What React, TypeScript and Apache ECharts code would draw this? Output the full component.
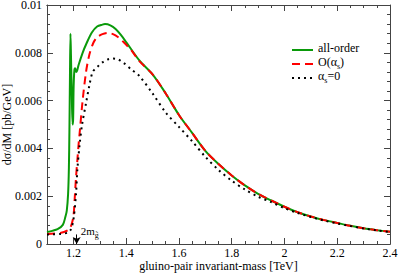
import React, { useEffect, useRef } from "react";
import * as echarts from "echarts";

const allOrderX = [1.1, 1.12, 1.14, 1.16, 1.17, 1.175, 1.18, 1.183, 1.185, 1.187, 1.189, 1.191, 1.194, 1.197, 1.199, 1.201, 1.204, 1.207, 1.21, 1.214, 1.22, 1.235, 1.25, 1.27, 1.29, 1.31, 1.32, 1.34, 1.36, 1.38, 1.4, 1.45, 1.5, 1.55, 1.6, 1.65, 1.7, 1.75, 1.8, 1.85, 1.9, 1.95, 2.0, 2.05, 2.1, 2.15, 2.2, 2.25, 2.3, 2.35, 2.4];
const allOrderY = [0.0005, 0.00055, 0.00062, 0.0008, 0.00115, 0.0014, 0.0021, 0.0032, 0.0048, 0.007, 0.0088, 0.0078, 0.0062, 0.005, 0.0052, 0.0066, 0.0073, 0.00735, 0.0072, 0.00725, 0.0075, 0.008, 0.0084, 0.00885, 0.0091, 0.00918, 0.0092, 0.00915, 0.009, 0.00875, 0.00845, 0.00768, 0.0071, 0.0063, 0.0054, 0.00465, 0.0039, 0.00335, 0.00287, 0.00245, 0.0021, 0.00182, 0.00156, 0.00133, 0.00115, 0.001, 0.00088, 0.00076, 0.00066, 0.00058, 0.00051];

const oasX = [1.1, 1.15, 1.18, 1.19, 1.2, 1.205, 1.21, 1.215, 1.22, 1.225, 1.235, 1.248, 1.26, 1.275, 1.29, 1.31, 1.33, 1.35, 1.37, 1.39, 1.42, 1.45, 1.5, 1.55, 1.6, 1.65, 1.7, 1.75, 1.8, 1.85, 1.9, 1.95, 2.0, 2.05, 2.1, 2.15, 2.2, 2.25, 2.3, 2.35, 2.4];
const oasY = [0.00042, 0.00046, 0.00058, 0.00072, 0.00115, 0.0019, 0.0028, 0.0035, 0.0042, 0.0048, 0.006, 0.0072, 0.0079, 0.0084, 0.00865, 0.00878, 0.00883, 0.00878, 0.00865, 0.00845, 0.0081, 0.00765, 0.0071, 0.0063, 0.0054, 0.00465, 0.0039, 0.00335, 0.00287, 0.00245, 0.0021, 0.00182, 0.00156, 0.00133, 0.00115, 0.001, 0.00088, 0.00076, 0.00066, 0.00058, 0.00051];

const as0X = [1.1, 1.15, 1.18, 1.19, 1.2, 1.21, 1.215, 1.224, 1.233, 1.248, 1.26, 1.273, 1.29, 1.31, 1.33, 1.35, 1.37, 1.39, 1.42, 1.45, 1.5, 1.55, 1.6, 1.65, 1.7, 1.75, 1.8, 1.85, 1.9, 1.95, 2.0, 2.05, 2.1, 2.15, 2.2, 2.25, 2.3, 2.35, 2.4];
const as0Y = [0.0004, 0.00042, 0.00048, 0.0006, 0.001, 0.0021, 0.0031, 0.0042, 0.005, 0.0059, 0.0066, 0.0072, 0.0074, 0.0076, 0.00772, 0.00776, 0.00772, 0.00758, 0.0073, 0.00703, 0.0063, 0.0055, 0.0049, 0.0043, 0.00365, 0.0031, 0.00265, 0.00228, 0.00198, 0.00175, 0.0015, 0.0013, 0.00113, 0.00098, 0.00086, 0.00075, 0.00065, 0.00057, 0.0005];

const xMajorTicks = [1.2, 1.4, 1.6, 1.8, 2, 2.2, 2.4];
const xMinorTicks = [1.15, 1.25, 1.3, 1.35, 1.45, 1.5, 1.55, 1.65, 1.7, 1.75, 1.85, 1.9, 1.95, 2.05, 2.1, 2.15, 2.25, 2.3, 2.35];

const thresholdX = 1.2125;
const arrowTop = 0.0004;
const labelY = 0.00043;

const FONT = '"Liberation Serif", "DejaVu Serif", serif';
const AXIS_COLOR = "#444";

function zip(xs: number[], ys: number[]) {
  return xs.map((x, i) => [x, ys[i]]);
}

export default function App() {
  const ref = useRef<HTMLDivElement>(null);
  useEffect(() => {
    if (!ref.current) return;
    const chart = echarts.init(ref.current, null, { renderer: "svg" });
    const lineCol = { color: AXIS_COLOR, width: 1 };
    const xBase = (pos: string) => ({
      type: "value",
      min: 1.1,
      max: 2.4,
      position: pos,
      splitLine: { show: false },
      axisLine: { show: true, onZero: false, lineStyle: lineCol },
    });
    const legendRich = {
      a: { fontFamily: FONT, fontSize: 12, color: "#000", lineHeight: 12, padding: [0, 0, 2, 0], verticalAlign: "bottom" },
      s: { fontFamily: FONT, fontSize: 8, color: "#000", lineHeight: 8, verticalAlign: "bottom" },
    };
    const legendText: Record<string, string> = {
      "all-order": "{a|all-order}",
      "O(αs)": "{a|O(α}{s|s}{a|)}",
      "αs=0": "{a|α}{s|s}{a|=0}",
    };
    chart.setOption({
      animation: false,
      backgroundColor: "#fff",
      grid: { left: 47, right: 9, top: 5, bottom: 29, containLabel: false, outerBoundsMode: "none" },
      legend: {
        orient: "vertical",
        left: 286,
        top: 37,
        itemWidth: 21,
        itemHeight: 10,
        itemGap: 0,
        itemStyle: { color: "transparent", borderWidth: 0, opacity: 0 },
        formatter: (n: string) => legendText[n] || n,
        textStyle: { fontFamily: FONT, fontSize: 12, color: "#000", rich: legendRich },
        data: ["all-order", "O(αs)", "αs=0"],
      },
      xAxis: [
        {
          ...xBase("bottom"),
          name: "gluino-pair invariant-mass [TeV]",
          nameLocation: "middle",
          nameGap: 16,
          nameMoveOverlap: false,
          nameTextStyle: { fontFamily: FONT, fontSize: 12, color: "#000" },
          axisTick: { show: true, inside: true, length: 6, customValues: xMajorTicks, lineStyle: lineCol },
          axisLabel: { show: true, customValues: xMajorTicks, margin: 3, fontFamily: FONT, fontSize: 12, color: "#000" },
        },
        {
          ...xBase("bottom"),
          axisTick: { show: true, inside: true, length: 3, customValues: xMinorTicks, lineStyle: lineCol },
          axisLabel: { show: false },
        },
        {
          ...xBase("top"),
          axisTick: { show: true, inside: true, length: 6, customValues: xMajorTicks, lineStyle: lineCol },
          axisLabel: { show: false },
        },
        {
          ...xBase("top"),
          axisTick: { show: true, inside: true, length: 3, customValues: xMinorTicks, lineStyle: lineCol },
          axisLabel: { show: false },
        },
      ],
      yAxis: [
        {
          type: "value",
          min: 0,
          max: 0.01,
          interval: 0.002,
          position: "left",
          name: "dσ/dM [pb/GeV]",
          nameLocation: "middle",
          nameGap: 34,
          nameMoveOverlap: false,
          nameTextStyle: { fontFamily: FONT, fontSize: 12, color: "#000" },
          splitLine: { show: false },
          axisLine: { show: true, onZero: false, lineStyle: lineCol },
          axisTick: { show: true, inside: true, length: 6, lineStyle: lineCol },
          minorTick: { show: true, splitNumber: 5, length: 3, lineStyle: lineCol },
          axisLabel: { margin: 5, fontFamily: FONT, fontSize: 12, color: "#000" },
        },
        {
          type: "value",
          min: 0,
          max: 0.01,
          interval: 0.002,
          position: "right",
          splitLine: { show: false },
          axisLine: { show: true, onZero: false, lineStyle: lineCol },
          axisTick: { show: true, inside: true, length: 6, lineStyle: lineCol },
          minorTick: { show: true, splitNumber: 5, length: 3, lineStyle: lineCol },
          axisLabel: { show: false },
        },
      ],
      series: [
        {
          name: "all-order",
          type: "line",
          symbol: "none",
          smooth: 0.3,
          data: zip(allOrderX, allOrderY),
          lineStyle: { color: "#0a9a0a", width: 2 },
          itemStyle: { color: "#0a9a0a" },
          z: 2,
        },
        {
          name: "O(αs)",
          type: "line",
          symbol: "none",
          smooth: 0.3,
          data: zip(oasX, oasY),
          lineStyle: { color: "#ff0000", width: 2, type: [8, 5] },
          itemStyle: { color: "#ff0000" },
          z: 3,
        },
        {
          name: "αs=0",
          type: "line",
          symbol: "none",
          smooth: 0.3,
          data: zip(as0X, as0Y),
          lineStyle: { color: "#000", width: 2, type: [2, 4] },
          itemStyle: { color: "#000" },
          z: 4,
          markLine: {
            silent: true,
            symbol: ["none", "arrow"],
            symbolSize: [6, 7],
            label: { show: false },
            lineStyle: { color: "#000", width: 1, type: "solid" },
            data: [[{ coord: [thresholdX, arrowTop] }, { coord: [thresholdX, 0] }]],
          },
          markPoint: {
            silent: true,
            symbol: "circle",
            symbolSize: 0,
            data: [{ coord: [thresholdX, labelY] }],
            label: {
              show: true,
              position: "right",
              distance: 4,
              formatter: "{a|2m}{s|g̃}",
              rich: {
                a: { fontFamily: FONT, fontSize: 11, color: "#000", lineHeight: 11, padding: [0, 0, 3, 0], verticalAlign: "bottom" },
                s: { fontFamily: FONT, fontSize: 8, color: "#000", lineHeight: 8, verticalAlign: "bottom" },
              },
            },
          },
        },
      ],
    });
    return () => chart.dispose();
  }, []);
  return (
    <div
      ref={ref}
      style={{ position: "fixed", left: 0, top: 0, width: 399, height: 273, background: "#fff" }}
    />
  );
}
